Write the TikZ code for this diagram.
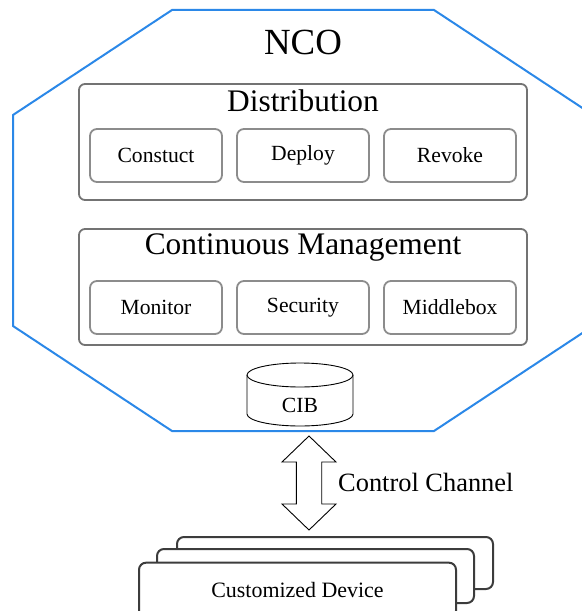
\documentclass[tikz,border=0pt]{standalone}
\usepackage{fontspec}
\setmainfont{Liberation Serif}
\definecolor{ncoblue}{HTML}{2B88E8}
\definecolor{grpgray}{HTML}{737373}
\definecolor{subgray}{HTML}{8C8C8C}
\definecolor{devgray}{HTML}{3C3C3C}
\begin{document}
\begin{tikzpicture}[x=1bp,y=-1bp,
  octa/.style={draw=ncoblue, line width=2bp, line join=miter},
  grp/.style={draw=grpgray, line width=1.8bp, rounded corners=6bp, minimum width=448bp, minimum height=116bp, inner sep=0pt},
  subbox/.style={draw=subgray, line width=1.8bp, rounded corners=7bp, minimum width=132bp, minimum height=53bp, inner sep=0pt, font=\fontsize{21.7}{24}\selectfont},
  dev/.style={draw=devgray, fill=white, line width=2bp, rounded corners=7bp, minimum width=316bp, inner sep=0pt},
  ttl/.style={anchor=base, inner sep=0pt, font=\fontsize{31.5}{34}\selectfont},
  thinline/.style={draw=black, line width=0.9bp}
]
\useasboundingbox (0,0) rectangle (582,611);
\clip (0,0) rectangle (582,611);
% NCO octagon
\draw[octa] (172,10) -- (434,10) -- (593,115) -- (593,326) -- (434,431) -- (172,431) -- (13,326) -- (13,115) -- cycle;
\node (nco) [anchor=base, inner sep=0pt, font=\fontsize{37}{40}\selectfont] at (303,55) {NCO};
% Distribution
\node (dist) [grp] at (303,142) {};
\node (distt) [ttl] at (303,112) {Distribution};
\node (cons) [subbox] at (156,155.5) {Constuct};
\node (depl) [subbox] at (303,155.5) {Deploy};
\node (revo) [subbox] at (450,155.5) {Revoke};
% Continuous Management
\node (mgmt) [grp] at (303,287) {};
\node (mgmtt) [ttl] at (303,254) {Continuous Management};
\node (moni) [subbox] at (156,307.5) {Monitor};
\node (secu) [subbox] at (303,307.5) {Security};
\node (midb) [subbox] at (450,307.5) {Middlebox};
% CIB cylinder
\fill[white] (247,375) -- (247,414) arc[start angle=180, end angle=0, x radius=53, y radius=12] -- (353,375) -- cycle;
\draw[thinline] (247,375) -- (247,414) arc[start angle=180, end angle=0, x radius=53, y radius=12] -- (353,375);
\draw[thinline] (300,375) ellipse [x radius=53, y radius=12];
\node (cib) [anchor=base, inner sep=0pt, font=\fontsize{21.7}{24}\selectfont] at (300,412.7) {CIB};
% Control channel double arrow
\draw[thinline, line join=miter] (309,436) -- (336,462) -- (321.7,462) -- (321.7,504) -- (336,504) -- (309,530) -- (282,504) -- (296.3,504) -- (296.3,462) -- (282,462) -- cycle;
\node (cc) [anchor=base west, inner sep=0pt, font=\fontsize{26.5}{29}\selectfont] at (338,491.7) {Control Channel};
% Customized devices
\node (dev3) [dev, minimum height=52bp] at (335,563) {};
\node (dev2) [dev, minimum height=54bp, minimum width=317bp] at (315.5,576) {};
\node (dev1) [dev, minimum height=55bp, minimum width=317bp, font=\fontsize{22}{24}\selectfont] at (297.5,590.2) {Customized Device};
\end{tikzpicture}
\end{document}
